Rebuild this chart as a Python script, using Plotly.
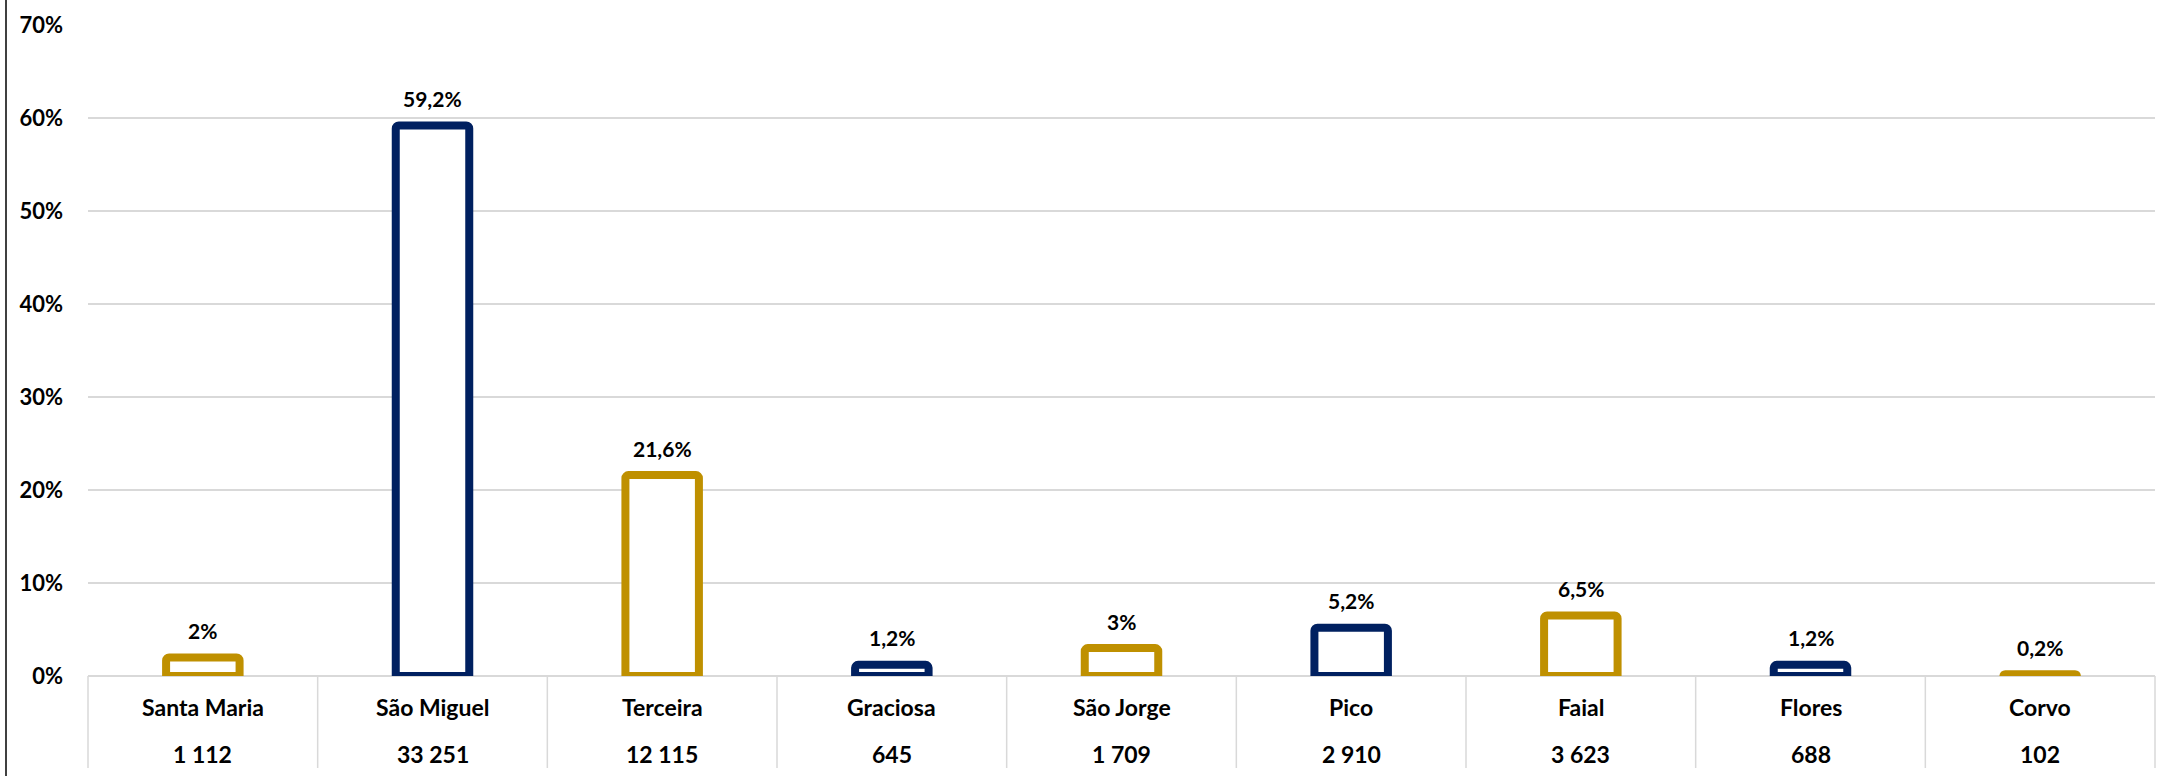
import plotly.graph_objects as go

islands = ["Santa Maria", "São Miguel", "Terceira", "Graciosa", "São Jorge",
           "Pico", "Faial", "Flores", "Corvo"]
share_pct = [2, 59.2, 21.6, 1.2, 3, 5.2, 6.5, 1.2, 0.2]
counts = ["1 112", "33 251", "12 115", "645", "1 709", "2 910", "3 623", "688", "102"]
bar_colors = ["#BF9000", "#002060", "#BF9000", "#002060", "#BF9000",
              "#002060", "#BF9000", "#002060", "#BF9000"]
y_ticks = [0, 10, 20, 30, 40, 50, 60, 70]

W, H = 2170, 776
ML, MR, MT, MB = 88, 15, 25, 100
plot_h = H - MT - MB

FONT = "Lato"

fig = go.Figure()
fig.add_trace(go.Bar(
    x=islands, y=share_pct,
    marker=dict(color="white", line=dict(color=bar_colors, width=8), cornerradius=3),
    hoverinfo="skip",
))

def fmt(v):
    return f"{v:g}".replace(".", ",") + "%"

for name, v in zip(islands, share_pct):
    fig.add_annotation(x=name, y=v, text=fmt(v), showarrow=False,
                       yanchor="middle", yshift=27,
                       font=dict(family=FONT, size=21, color="black", weight="bold"))

for name, c in zip(islands, counts):
    fig.add_annotation(x=name, y=0, yref="y domain", text=name, showarrow=False,
                       yanchor="middle", yshift=-31,
                       font=dict(family=FONT, size=23, color="black", weight="bold"))
    fig.add_annotation(x=name, y=0, yref="y domain", text=c, showarrow=False,
                       yanchor="middle", yshift=-78,
                       font=dict(family=FONT, size=23, color="black", weight="bold"))

n = len(islands)
for i in range(n + 1):
    fig.add_shape(type="line", xref="paper", yref="paper",
                  x0=i / n, x1=i / n, y0=0, y1=-(92 / plot_h),
                  line=dict(color="#D9D9D9", width=1.5))

# left chart border
bx = -(ML - 6) / (W - ML - MR)
fig.add_shape(type="line", xref="paper", yref="paper",
              x0=bx, x1=bx, y0=-(MB / plot_h), y1=1 + MT / plot_h,
              line=dict(color="black", width=1.5))

fig.update_layout(
    width=W, height=H,
    margin=dict(l=ML, r=MR, t=MT, b=MB),
    plot_bgcolor="white", paper_bgcolor="white",
    showlegend=False, bargap=0.68,
    font=dict(family=FONT, color="black"),
)
fig.update_xaxes(showticklabels=False, showgrid=False, zeroline=False, showline=False)
fig.update_yaxes(range=[0, 70], tickvals=y_ticks, ticktext=[f"{t}%" for t in y_ticks],
                 showgrid=True, gridcolor="#D9D9D9", gridwidth=1.5,
                 zeroline=True, zerolinecolor="#D9D9D9", zerolinewidth=1.5,
                 showline=False, ticks="", ticklabelstandoff=24,
                 tickfont=dict(family=FONT, size=22, color="black", weight="bold"))

fig.write_html("out.html", config={"displayModeBar": False},
               post_script="document.body.style.margin='0';")
